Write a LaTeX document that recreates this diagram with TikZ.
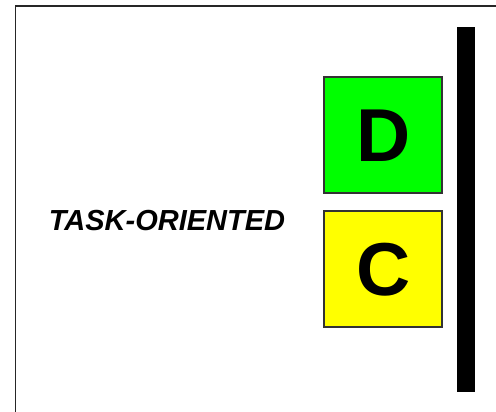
\documentclass[tikz,border=0pt]{standalone}
\usepackage{fontspec}
\setmainfont{Liberation Sans}
\begin{document}
\begin{tikzpicture}[x=1pt,y=-1pt,
  letterbox/.style={draw=black!80,line width=2pt,minimum width=118pt,minimum height=116pt,inner sep=0pt,
    font=\fontsize{75}{75}\selectfont\bfseries},
  label/.style={font=\fontsize{29}{29}\selectfont\bfseries\itshape,inner sep=0pt}]
\useasboundingbox (0,0) rectangle (496,412);
\coordinate (bl) at (15.5,412);
\coordinate (tl) at (15.5,6);
\coordinate (tr) at (496,6);
\draw[line width=1.3pt,black!85] (bl) -- (tl) -- (tr);
\node[letterbox,fill={rgb,255:red,0;green,255;blue,0}] (D) at (383.25,135.3) {D};
\node[letterbox,fill={rgb,255:red,255;green,255;blue,0}] (C) at (383.25,269.2) {C};
\node[label,anchor=base] (task) at (167,230.7) {TASK-ORIENTED};
\fill[black] (457,26.7) rectangle (474.7,391.7);
\end{tikzpicture}
\end{document}
